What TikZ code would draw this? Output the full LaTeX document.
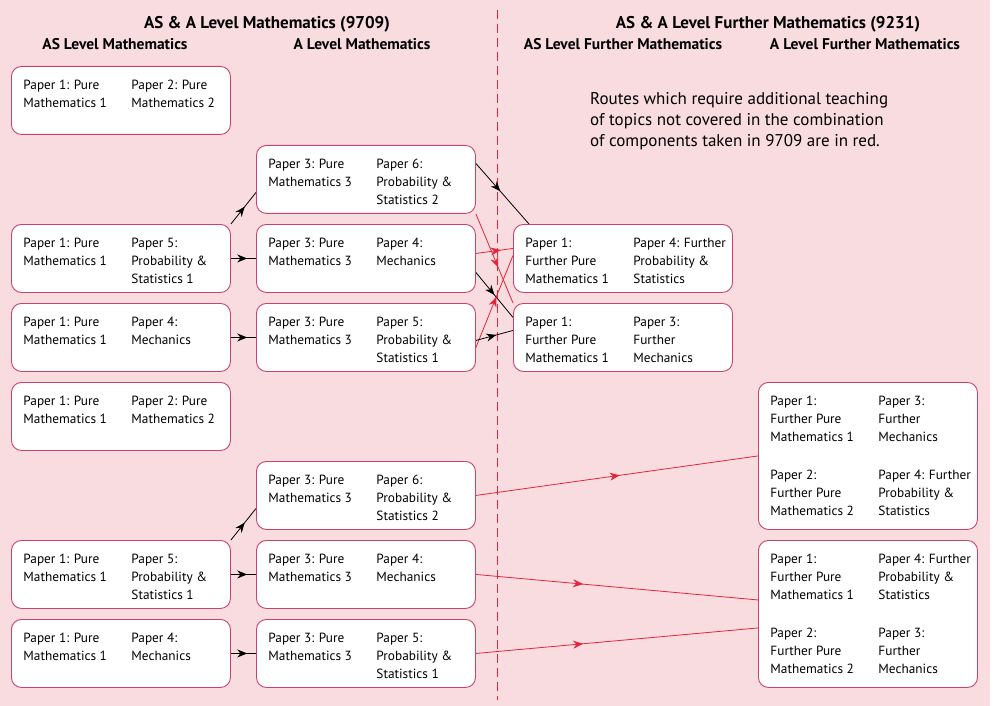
\documentclass[tikz,border=0pt]{standalone}
\usepackage{fontspec}
\setmainfont{PT Sans}
\usetikzlibrary{arrows.meta,decorations.markings}
\definecolor{bgpink}{HTML}{F8DCE0}
\definecolor{boxline}{HTML}{C9446C}
\definecolor{routered}{HTML}{E3263B}
\pgfdeclarelayer{paper}
\pgfdeclarelayer{links}
\pgfsetlayers{paper,links,main}
\newcommand{\papers}[2]{\hspace*{12pt}\begin{minipage}[t]{108pt}\raggedright#1\end{minipage}\begin{minipage}[t]{99pt}\raggedright#2\end{minipage}}

\begin{document}
\begin{tikzpicture}[
  x=1pt, y=-1pt,
  >=Stealth,
  paperbox/.style={draw=boxline, fill=white, rounded corners=10pt, line width=0.9pt, inner sep=0pt, anchor=north west, text height=23pt, text depth=45pt, font=\fontsize{13.3}{18}\selectfont},
  tallbox/.style={paperbox, text depth=124pt},
  heading/.style={font=\bfseries\fontsize{17}{20}\selectfont, anchor=base},
  subhead/.style={font=\bfseries\fontsize{15.5}{18}\selectfont, anchor=base},
  link/.style={line width=0.8pt, postaction={decorate}, decoration={markings, mark=at position #1 with {\arrow{Stealth[length=10pt,width=8pt]}}}},
  plain/.style={link=#1, black},
  plain/.default=0.6,
  extra/.style={link=#1, routered},
  extra/.default=0.6
]
  \useasboundingbox (0,0) rectangle (994,706);
  \begin{pgfonlayer}{paper}
    \fill[bgpink] (0,0) rectangle (990,706);
    \draw[routered, line width=0.8pt, dash pattern=on 9pt off 5pt] (497,10) -- (497,700);
  \end{pgfonlayer}

  % headings
  \node[heading] (t9709) at (267,29) {AS \& A Level Mathematics (9709)};
  \node[heading] (t9231) at (768,29) {AS \& A Level Further Mathematics (9231)};
  \node[subhead] (asm) at (115,50) {AS Level Mathematics};
  \node[subhead] (alm) at (362,50) {A Level Mathematics};
  \node[subhead] (asfm) at (623,50) {AS Level Further Mathematics};
  \node[subhead] (alfm) at (865,50) {A Level Further Mathematics};
  \node[anchor=north west, inner sep=0pt, align=left, font=\fontsize{17}{21}\selectfont] (note) at (590,92)
    {Routes which require additional teaching\\of topics not covered in the combination\\of components taken in 9709 are in red.};

  % AS Level Mathematics
  \node[paperbox] (A1) at (11,66) {\papers{Paper 1: Pure\\Mathematics 1}{Paper 2: Pure\\Mathematics 2}};
  \node[paperbox] (A2) at (11,224) {\papers{Paper 1: Pure\\Mathematics 1}{Paper 5:\\Probability \&\\Statistics 1}};
  \node[paperbox] (A3) at (11,303) {\papers{Paper 1: Pure\\Mathematics 1}{Paper 4:\\Mechanics}};
  \node[paperbox] (A4) at (11,382) {\papers{Paper 1: Pure\\Mathematics 1}{Paper 2: Pure\\Mathematics 2}};
  \node[paperbox] (A5) at (11,540) {\papers{Paper 1: Pure\\Mathematics 1}{Paper 5:\\Probability \&\\Statistics 1}};
  \node[paperbox] (A6) at (11,619) {\papers{Paper 1: Pure\\Mathematics 1}{Paper 4:\\Mechanics}};

  % A Level Mathematics
  \node[paperbox] (B1) at (256,145) {\papers{Paper 3: Pure\\Mathematics 3}{Paper 6:\\Probability \&\\Statistics 2}};
  \node[paperbox] (B2) at (256,224) {\papers{Paper 3: Pure\\Mathematics 3}{Paper 4:\\Mechanics}};
  \node[paperbox] (B3) at (256,303) {\papers{Paper 3: Pure\\Mathematics 3}{Paper 5:\\Probability \&\\Statistics 1}};
  \node[paperbox] (B4) at (256,461) {\papers{Paper 3: Pure\\Mathematics 3}{Paper 6:\\Probability \&\\Statistics 2}};
  \node[paperbox] (B5) at (256,540) {\papers{Paper 3: Pure\\Mathematics 3}{Paper 4:\\Mechanics}};
  \node[paperbox] (B6) at (256,619) {\papers{Paper 3: Pure\\Mathematics 3}{Paper 5:\\Probability \&\\Statistics 1}};

  % AS Level Further Mathematics
  \node[paperbox] (C1) at (513,224) {\papers{Paper 1:\\Further Pure\\Mathematics 1}{Paper 4: Further\\Probability \&\\Statistics}};
  \node[paperbox] (C2) at (513,303) {\papers{Paper 1:\\Further Pure\\Mathematics 1}{Paper 3:\\Further\\Mechanics}};

  % A Level Further Mathematics
  \node[tallbox] (D1) at (758,382) {\papers{Paper 1:\\Further Pure\\Mathematics 1\\[20pt]Paper 2:\\Further Pure\\Mathematics 2}{Paper 3:\\Further\\Mechanics\\[20pt]Paper 4: Further\\Probability \&\\Statistics}};
  \node[tallbox] (D2) at (758,540) {\papers{Paper 1:\\Further Pure\\Mathematics 1\\[20pt]Paper 2:\\Further Pure\\Mathematics 2}{Paper 4: Further\\Probability \&\\Statistics\\[20pt]Paper 3:\\Further\\Mechanics}};

  % routes
  \begin{pgfonlayer}{links}
    \draw[plain=0.55] (A2.north east) -- ([yshift=-13pt]B1.west);
    \draw[plain=0.65] (A2.east) -- (B2.west);
    \draw[plain=0.65] (A3.east) -- (B3.west);
    \draw[plain=0.55] (A5.north east) -- ([yshift=-13pt]B4.west);
    \draw[plain=0.65] (A5.east) -- (B5.west);
    \draw[plain=0.65] (A6.east) -- (B6.west);
    \draw[plain=0.46] ([yshift=16pt]B1.east) -- ([xshift=16pt]C1.north west);
    \draw[extra=0.6] (B1.south east) -- (C2.north west);
    \draw[extra=0.67] ([yshift=5pt]B2.east) -- ([yshift=10pt]C1.west);
    \draw[plain=0.5] ([yshift=-14pt]B2.east) -- ([yshift=20pt]C2.west);
    \draw[extra=0.55] ([yshift=-10pt]B3.east) -- ([yshift=3pt]C1.west);
    \draw[plain=0.55] ([yshift=-3pt]B3.east) -- ([yshift=7pt]C2.west);
    \draw[extra=0.51] (B4.east) -- (D1.west);
    \draw[extra=0.38] (B5.east) -- ([yshift=14pt]D2.west);
    \draw[extra=0.38] (B6.east) -- ([yshift=-14pt]D2.west);
  \end{pgfonlayer}
\end{tikzpicture}
\end{document}
